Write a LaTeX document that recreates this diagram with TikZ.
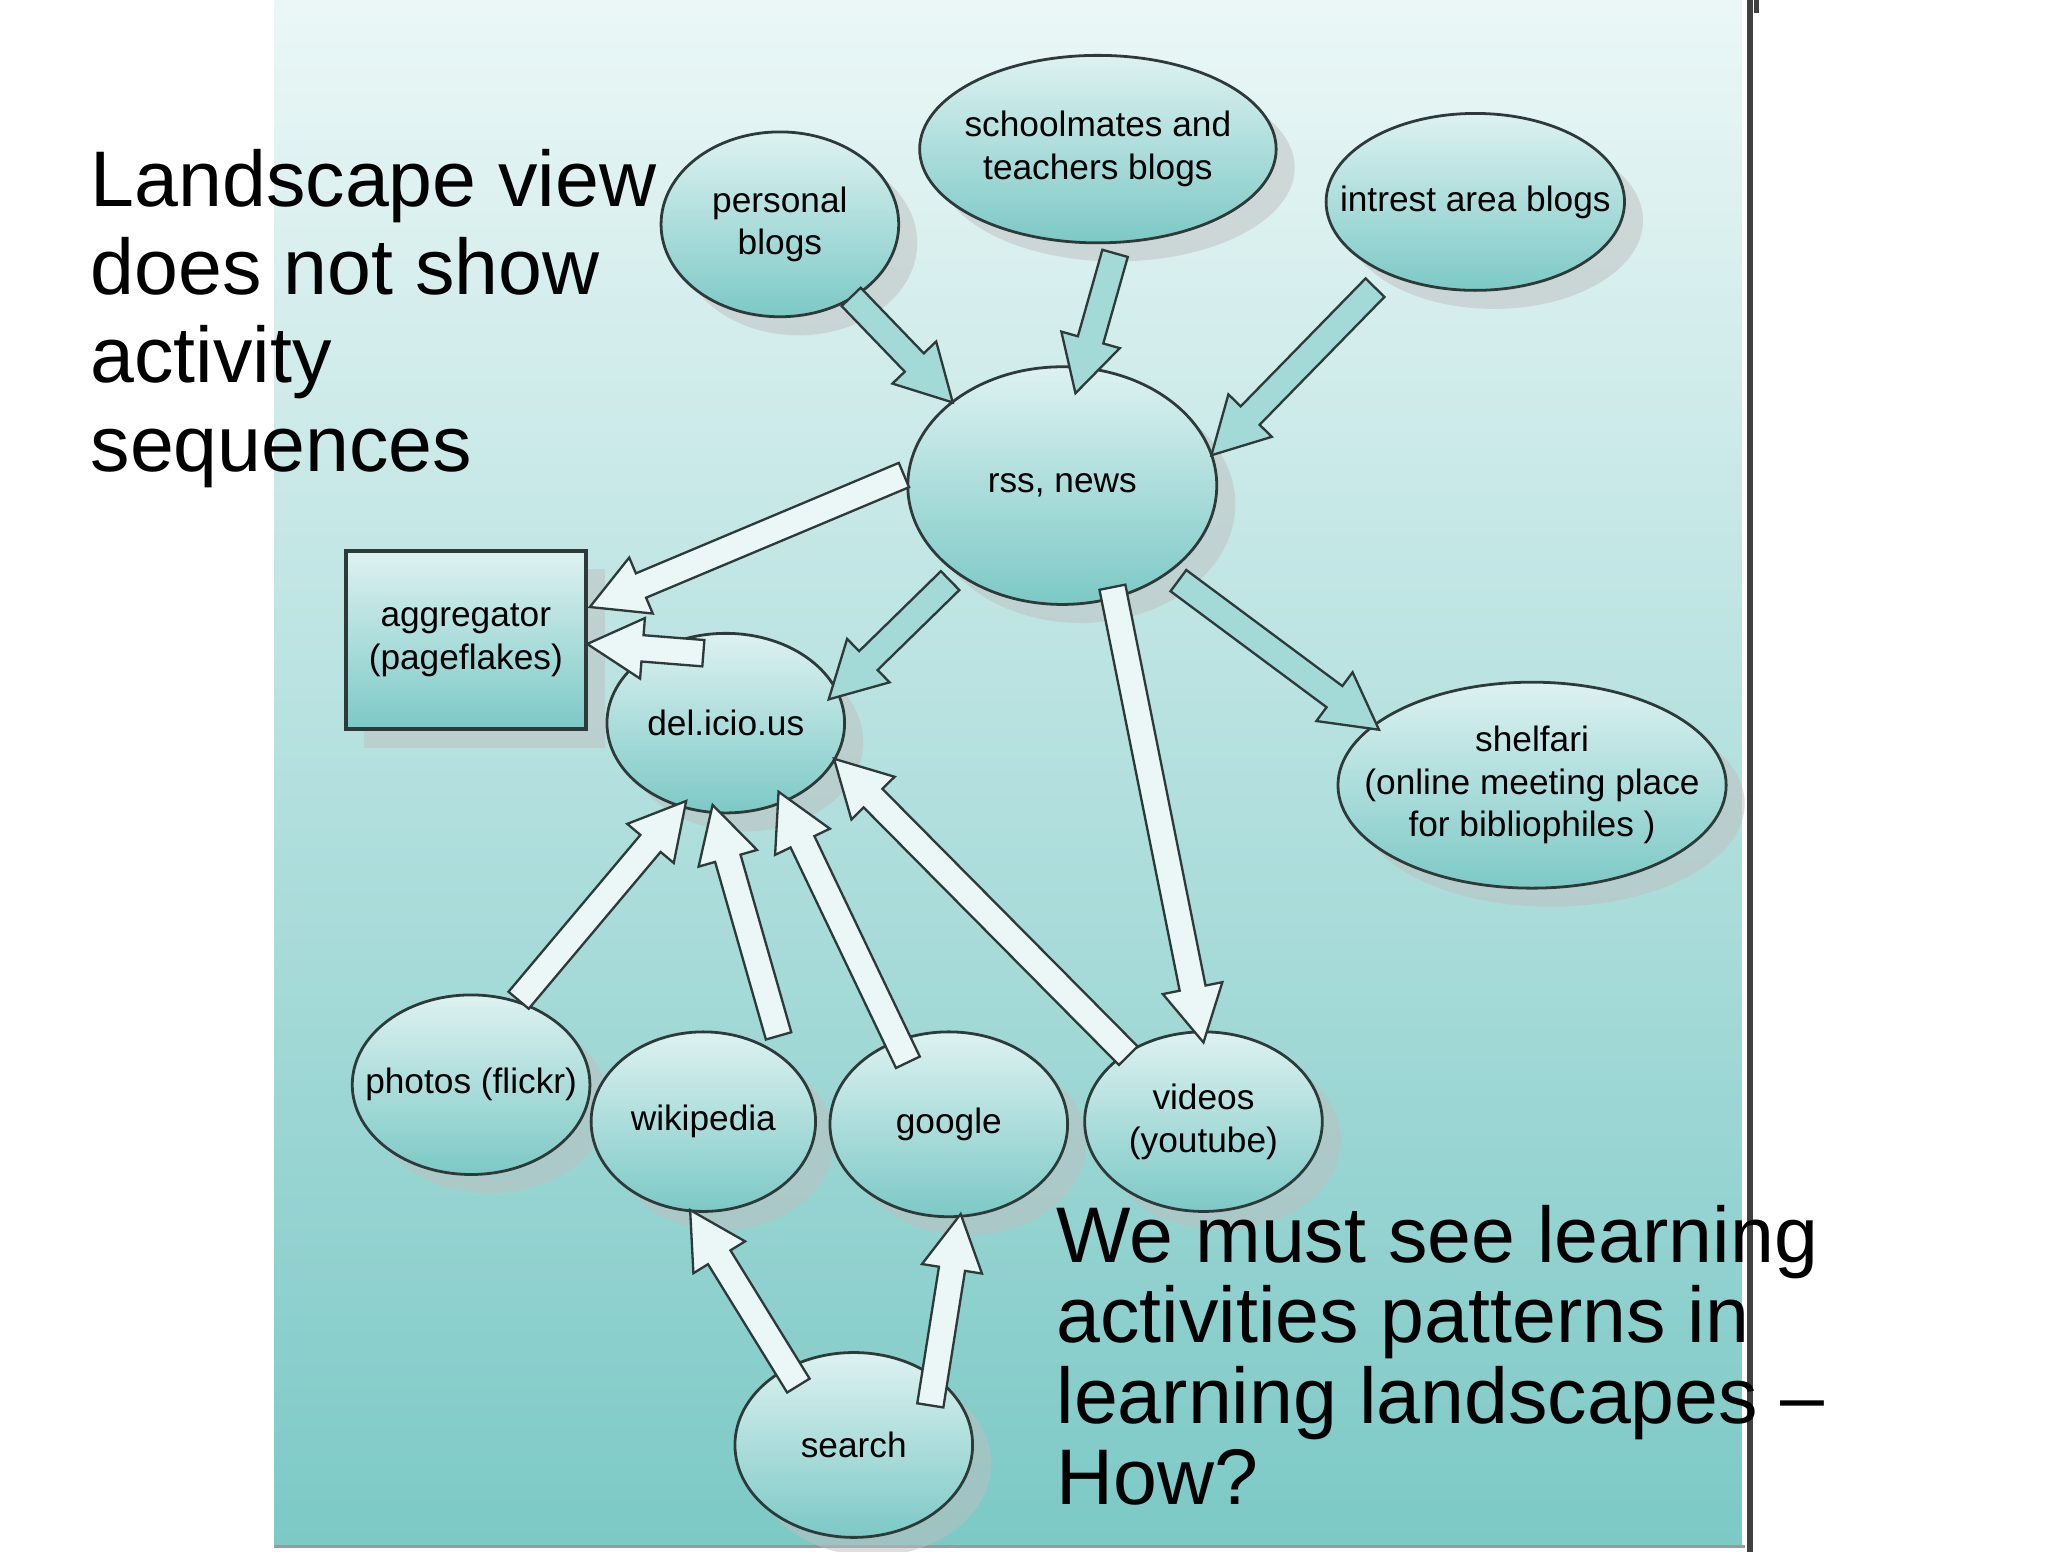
\documentclass[tikz,border=0pt]{standalone}
\usepackage{fontspec}
\setmainfont{Liberation Sans}
\usetikzlibrary{shapes.geometric,shadows,calc}
\definecolor{edge}{HTML}{2E3A3A}
\definecolor{tealtop}{HTML}{DDF2F1}
\definecolor{tealbot}{HTML}{7CC9C6}
\tikzset{
  el/.style={ellipse, draw=edge, line width=0.6pt, inner xsep=-7pt, inner ysep=-2pt, top color=tealtop, bottom color=tealbot,
     drop shadow={shadow xshift=4pt, shadow yshift=-4pt, fill=black!25}, align=center, font=\fontsize{7.6}{9.2}\selectfont},
  fatd/.style={draw=edge, line width=0.5pt, fill=tealbot!70, line join=miter},
  fatl/.style={draw=edge, line width=0.5pt, fill=tealtop!60, line join=miter},
  big/.style={anchor=base west, align=left, inner sep=0pt, font=\fontsize{17}{19}\selectfont}
}
\newcommand\fatarr[3]{%
  \coordinate (tmpC) at ($(#3)!0.42cm!(#2)$);
  \path[#1] ($(#2)!0.1cm!90:(#3)$) -- ($(tmpC)!0.1cm!90:(#3)$) -- ($(tmpC)!0.23cm!90:(#3)$) -- (#3)
     -- ($(tmpC)!0.23cm!-90:(#3)$) -- ($(tmpC)!0.1cm!-90:(#3)$) -- ($(#2)!0.1cm!-90:(#3)$) -- cycle;}
\begin{document}
\begin{tikzpicture}[x=0.01cm,y=-0.01cm]
\useasboundingbox (0,0) rectangle (1552,1176);
\fill[white] (0,0) rectangle (1552,1176);
\shade[top color=tealtop!60!white, bottom color=tealbot] (208,0) rectangle (1320,1172);
\draw[black!75, line width=1.2pt] (1326,0) -- (1326,1176);
\draw[black!40, line width=0.6pt] (208,1172) -- (1322,1172);
\draw[black!75, line width=1pt] (1331,0) -- (1331,10);

\node[el, minimum width=1.8cm, minimum height=1.4cm] (pers) at (591,170) {personal\\blogs};
\node[el, inner xsep=-10pt, minimum width=2.7cm, minimum height=1.42cm] (school) at (832,113) {schoolmates and\\teachers blogs};
\node[el, inner xsep=-11pt, minimum width=2.26cm, minimum height=1.34cm] (intr) at (1118,153) {intrest area blogs};
\node[el, minimum width=2.34cm, minimum height=1.8cm] (rss) at (805,368) {rss, news};
\node[draw=edge, line width=0.8pt, top color=tealtop, bottom color=tealbot, minimum width=1.82cm, minimum height=1.35cm, inner sep=0pt,
   drop shadow={shadow xshift=4pt, shadow yshift=-4pt, fill=black!25}, align=center, font=\fontsize{7.6}{9.2}\selectfont]
   (agg) at (353,485) {aggregator\\(pageflakes)};
\node[el, minimum width=1.8cm, minimum height=1.36cm] (del) at (550,548) {del.icio.us};
\node[el, inner xsep=-14pt, minimum width=2.94cm, minimum height=1.56cm] (shelf) at (1161,595) {shelfari\\(online meeting place\\for bibliophiles )};
\node[el, inner xsep=-11pt, minimum width=1.8cm, minimum height=1.36cm] (photo) at (357,822) {photos (flickr)};
\node[el, minimum width=1.7cm, minimum height=1.36cm] (wiki) at (533,850) {wikipedia};
\node[el, minimum width=1.8cm, minimum height=1.4cm] (goog) at (719,852) {google};
\node[el, minimum width=1.8cm, minimum height=1.36cm] (vid) at (912,850) {videos\\(youtube)};
\node[el, minimum width=1.8cm, minimum height=1.4cm] (srch) at (647,1095) {search};

\coordinate (a1s) at (645,225); \coordinate (a1e) at (722,305);
\coordinate (a2s) at (845,192); \coordinate (a2e) at (815,298);
\coordinate (a3s) at (1042,218); \coordinate (a3e) at (918,345);
\coordinate (a4s) at (685,360); \coordinate (a4e) at (447,460);
\coordinate (a5s) at (533,495); \coordinate (a5e) at (445,488);
\coordinate (a6s) at (720,440); \coordinate (a6e) at (628,530);
\coordinate (a7s) at (893,440); \coordinate (a7e) at (1045,553);
\coordinate (a8s) at (843,445); \coordinate (a8e) at (912,790);
\coordinate (a9s) at (393,758); \coordinate (a9e) at (520,607);
\coordinate (a10s) at (590,785); \coordinate (a10e) at (540,610);
\coordinate (a11s) at (688,805); \coordinate (a11e) at (590,600);
\coordinate (a12s) at (855,800); \coordinate (a12e) at (632,575);
\coordinate (a13s) at (605,1050); \coordinate (a13e) at (523,917);
\coordinate (a14s) at (705,1065); \coordinate (a14e) at (728,920);

\fatarr{fatd}{a1s}{a1e}
\fatarr{fatd}{a2s}{a2e}
\fatarr{fatd}{a3s}{a3e}
\fatarr{fatl}{a4s}{a4e}
\fatarr{fatl}{a5s}{a5e}
\fatarr{fatd}{a6s}{a6e}
\fatarr{fatd}{a7s}{a7e}
\fatarr{fatl}{a8s}{a8e}
\fatarr{fatl}{a9s}{a9e}
\fatarr{fatl}{a10s}{a10e}
\fatarr{fatl}{a11s}{a11e}
\fatarr{fatl}{a12s}{a12e}
\fatarr{fatl}{a13s}{a13e}
\fatarr{fatl}{a14s}{a14e}

\node[big] (t1) at (68,357) {Landscape view\\does not show\\activity\\sequences};
\node[big, font=\fontsize{17}{17.4}\selectfont] (t2) at (800,1140) {We must see learning\\activities patterns in\\learning landscapes --\\How?};
\end{tikzpicture}
\end{document}
